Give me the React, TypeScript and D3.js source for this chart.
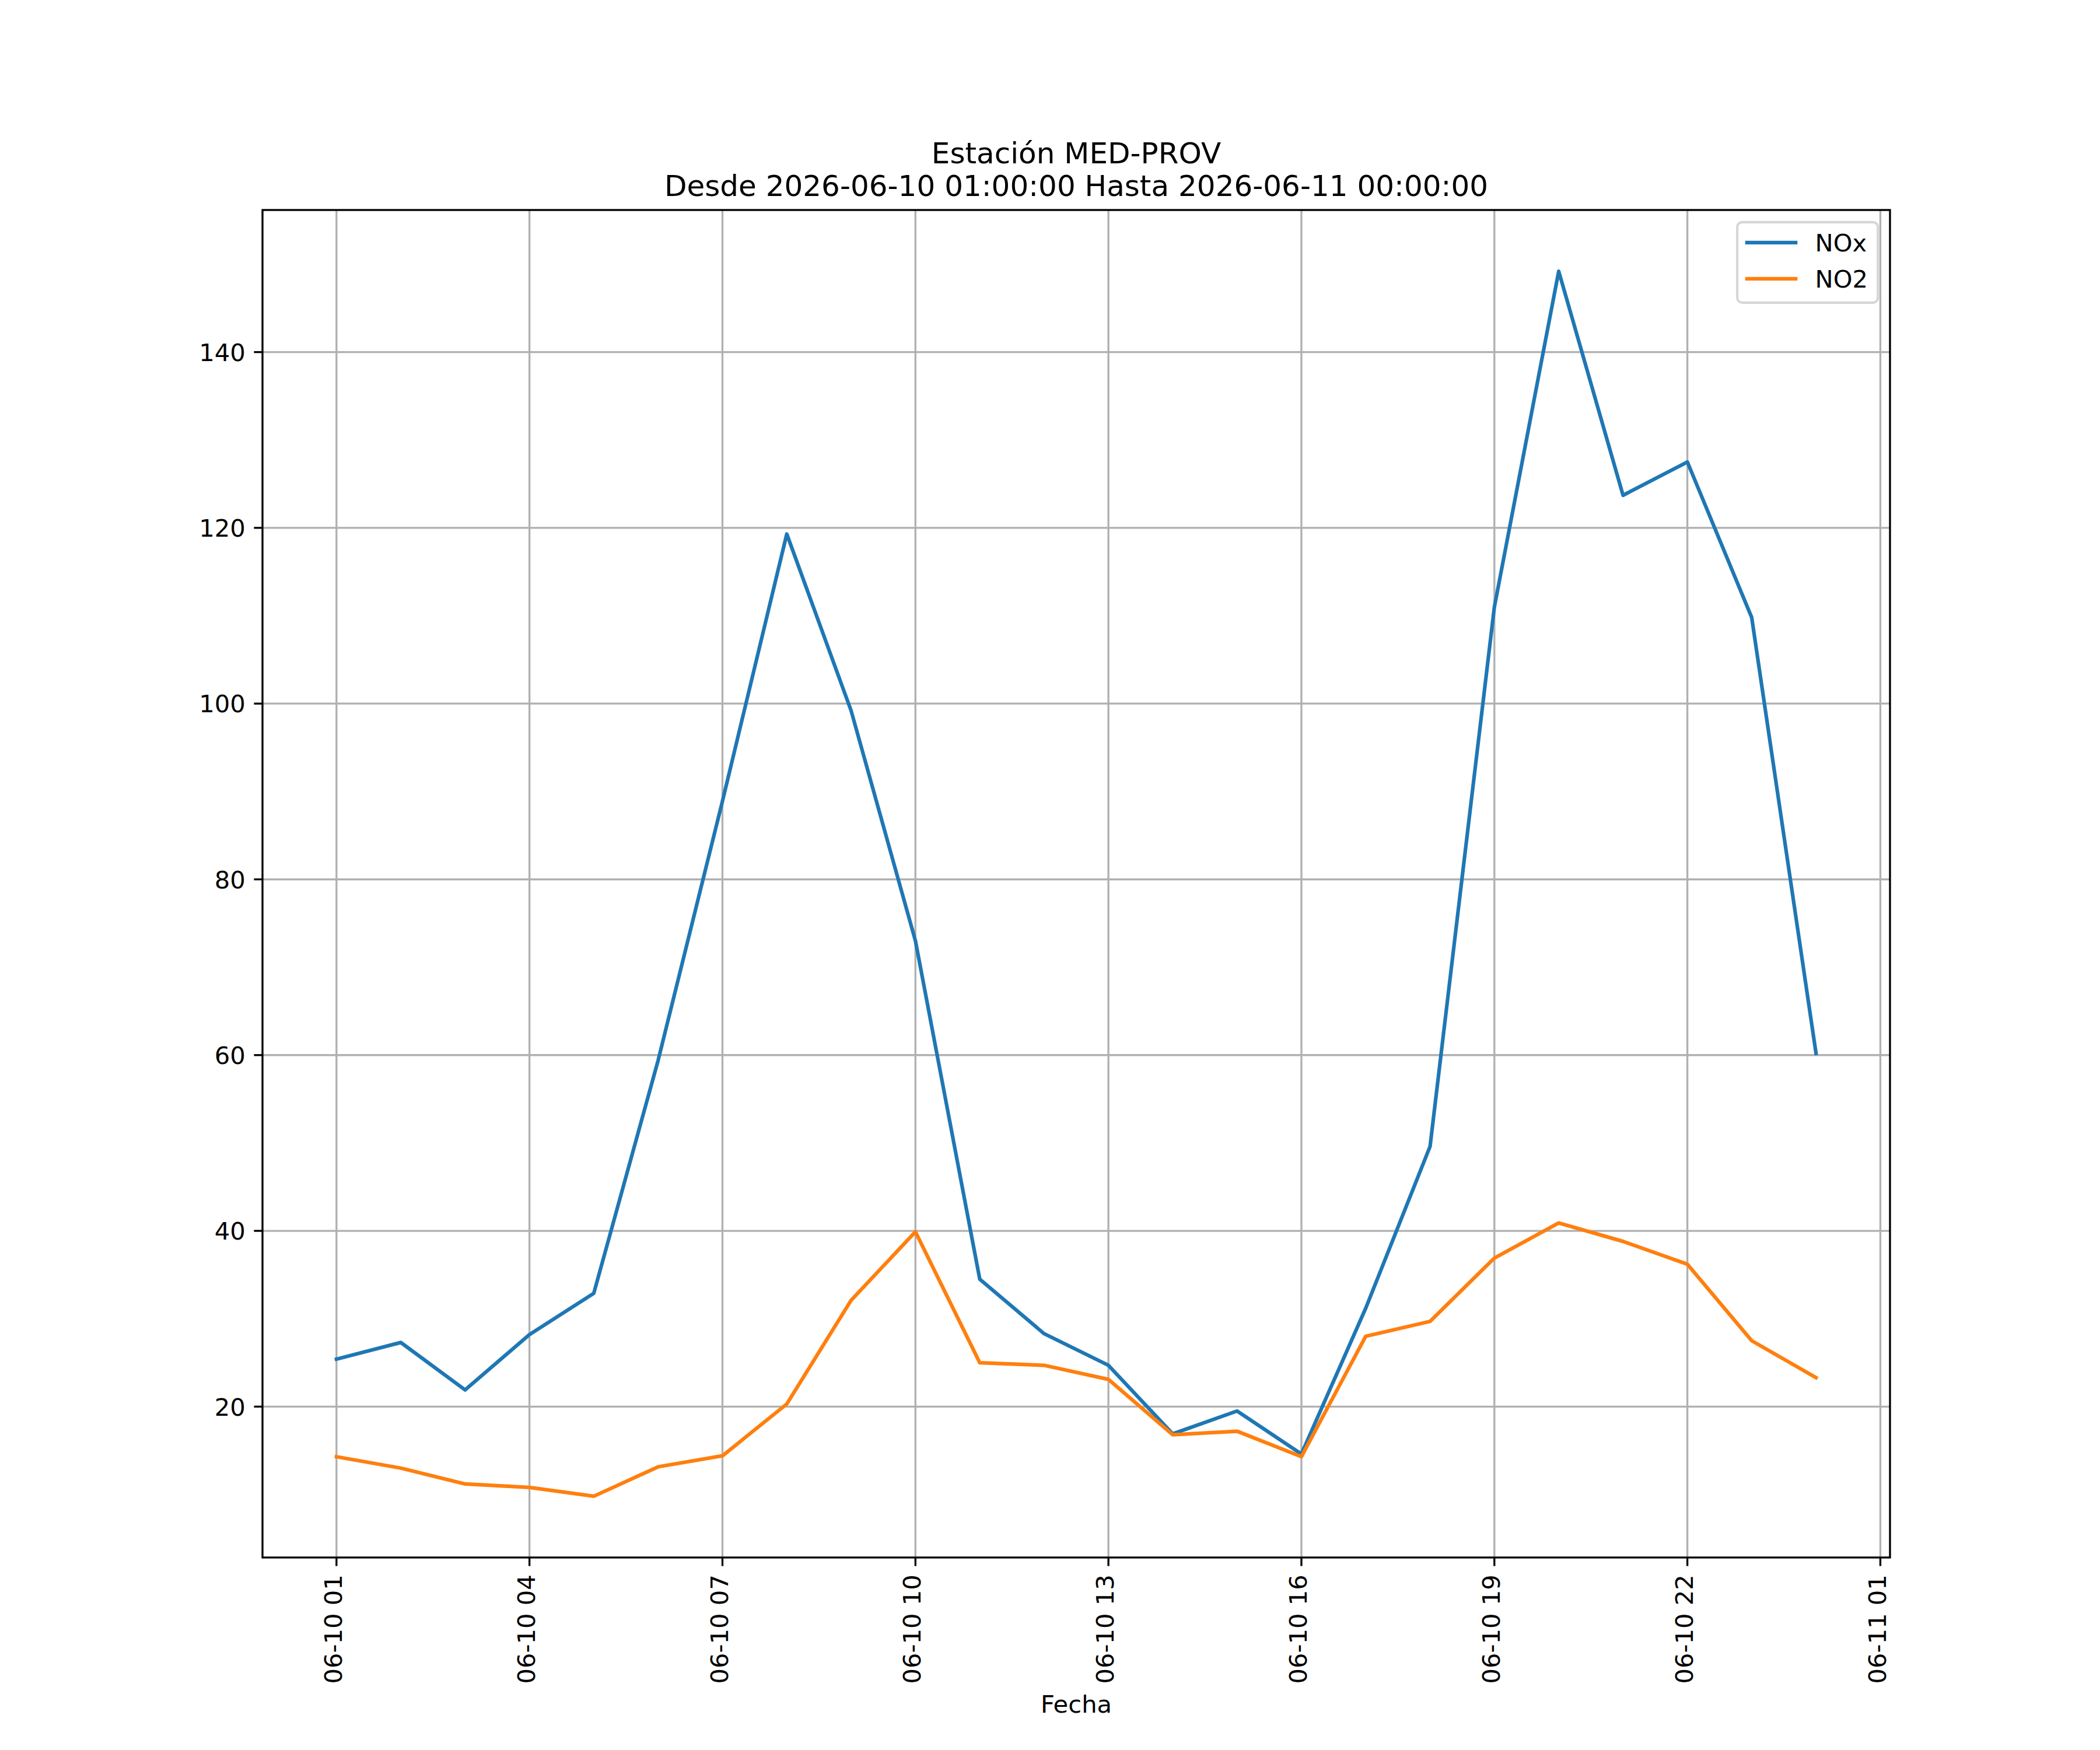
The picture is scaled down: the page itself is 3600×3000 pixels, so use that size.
import { useEffect, useRef } from 'react'
import * as d3 from 'd3'

// hourly readings, 06-10 01:00 → 06-11 00:00
const TIMES = [
  '2026-06-10 01:00', '2026-06-10 02:00', '2026-06-10 03:00', '2026-06-10 04:00',
  '2026-06-10 05:00', '2026-06-10 06:00', '2026-06-10 07:00', '2026-06-10 08:00',
  '2026-06-10 09:00', '2026-06-10 10:00', '2026-06-10 11:00', '2026-06-10 12:00',
  '2026-06-10 13:00', '2026-06-10 14:00', '2026-06-10 15:00', '2026-06-10 16:00',
  '2026-06-10 17:00', '2026-06-10 18:00', '2026-06-10 19:00', '2026-06-10 20:00',
  '2026-06-10 21:00', '2026-06-10 22:00', '2026-06-10 23:00', '2026-06-11 00:00',
]

const NOX = [
  25.4, 27.3, 21.9, 28.2, 32.9, 59.4, 88.9, 119.3, 99.2, 73.0, 34.5, 28.3,
  24.7, 16.9, 19.5, 14.6, 31.2, 49.6, 111.0, 149.2, 123.7, 127.5, 109.8, 60.2,
]

const NO2 = [
  14.3, 13.0, 11.2, 10.8, 9.8, 13.15, 14.4, 20.3, 32.1, 39.9, 25.0, 24.7,
  23.1, 16.8, 17.2, 14.3, 28.0, 29.7, 36.9, 40.9, 38.8, 36.2, 27.5, 23.3,
]

const SERIES = [
  { name: 'NOx', values: NOX, color: '#1f77b4' },
  { name: 'NO2', values: NO2, color: '#ff7f0e' },
]

const X_TICKS = [
  '2026-06-10 01:00', '2026-06-10 04:00', '2026-06-10 07:00', '2026-06-10 10:00',
  '2026-06-10 13:00', '2026-06-10 16:00', '2026-06-10 19:00', '2026-06-10 22:00',
  '2026-06-11 01:00',
]
const Y_TICKS = [20, 40, 60, 80, 100, 120, 140]

const TITLE = ['Estación MED-PROV', 'Desde 2026-06-10 01:00:00 Hasta 2026-06-11 00:00:00']
const X_LABEL = 'Fecha'

const FONT = '"DejaVu Sans", sans-serif'

export default function App() {
  const svgRef = useRef<SVGSVGElement>(null)

  useEffect(() => {
    const svg = svgRef.current
    if (!svg) return

    const width = 3600
    const height = 3000
    const margin = { top: 360, right: 360, bottom: 330, left: 450 }
    const innerW = width - margin.left - margin.right
    const innerH = height - margin.top - margin.bottom
    const fs = 41.67
    const tickLen = 14.6
    const tickPad = 14.6
    const thin = 3.33

    const root = d3.select(svg)
    root.selectAll('*').remove()
    root.attr('width', width).attr('height', height)
    root.append('rect').attr('width', width).attr('height', height).attr('fill', '#fff')

    const parse = d3.timeParse('%Y-%m-%d %H:%M')
    const dates = TIMES.map(t => parse(t) as Date)
    const fmt = d3.timeFormat('%m-%d %H')

    // matplotlib-style 5% margins
    const [t0, t1] = d3.extent(dates) as [Date, Date]
    const tPad = (+t1 - +t0) * 0.05
    const allVals = SERIES.flatMap(s => s.values)
    const vMin = d3.min(allVals) as number
    const vMax = d3.max(allVals) as number
    const vPad = (vMax - vMin) * 0.05

    const x = d3.scaleTime().domain([new Date(+t0 - tPad), new Date(+t1 + tPad)]).range([0, innerW])
    const y = d3.scaleLinear().domain([vMin - vPad, vMax + vPad]).range([innerH, 0])

    const g = root.append('g').attr('transform', `translate(${margin.left},${margin.top})`)

    const xTicks = X_TICKS.map(t => parse(t) as Date)

    // grid
    g.append('g')
      .selectAll('line')
      .data(xTicks)
      .join('line')
      .attr('x1', d => x(d)).attr('x2', d => x(d))
      .attr('y1', 0).attr('y2', innerH)
      .attr('stroke', '#b0b0b0').attr('stroke-width', thin)
    g.append('g')
      .selectAll('line')
      .data(Y_TICKS)
      .join('line')
      .attr('x1', 0).attr('x2', innerW)
      .attr('y1', d => y(d)).attr('y2', d => y(d))
      .attr('stroke', '#b0b0b0').attr('stroke-width', thin)

    // series
    const line = d3.line<number>()
      .x((_, i) => x(dates[i]))
      .y(d => y(d))

    SERIES.forEach(s => {
      g.append('path')
        .attr('d', line(s.values) ?? '')
        .attr('fill', 'none')
        .attr('stroke', s.color)
        .attr('stroke-width', 6.25)
        .attr('stroke-linecap', 'square')
        .attr('stroke-linejoin', 'round')
    })

    // spines
    g.append('rect')
      .attr('width', innerW).attr('height', innerH)
      .attr('fill', 'none').attr('stroke', '#000').attr('stroke-width', thin)

    // x axis ticks + rotated labels
    const xAx = g.append('g').attr('transform', `translate(0,${innerH})`)
    xAx.selectAll('line')
      .data(xTicks)
      .join('line')
      .attr('x1', d => x(d)).attr('x2', d => x(d))
      .attr('y1', 0).attr('y2', tickLen)
      .attr('stroke', '#000').attr('stroke-width', thin)
    xAx.selectAll('text')
      .data(xTicks)
      .join('text')
      .attr('transform', d => `translate(${x(d)},${tickLen + tickPad}) rotate(-90)`)
      .attr('text-anchor', 'end')
      .attr('dy', '0.22em')
      .attr('font-family', FONT)
      .attr('font-size', fs)
      .attr('fill', '#000')
      .text(d => fmt(d))

    // y axis
    const yAx = g.append('g')
    yAx.selectAll('line')
      .data(Y_TICKS)
      .join('line')
      .attr('x1', -tickLen).attr('x2', 0)
      .attr('y1', d => y(d)).attr('y2', d => y(d))
      .attr('stroke', '#000').attr('stroke-width', thin)
    yAx.selectAll('text')
      .data(Y_TICKS)
      .join('text')
      .attr('x', -tickLen - tickPad)
      .attr('y', d => y(d))
      .attr('dy', '0.365em')
      .attr('text-anchor', 'end')
      .attr('font-family', FONT)
      .attr('font-size', fs)
      .attr('fill', '#000')
      .text(d => String(d))

    // x label
    root.append('text')
      .attr('x', margin.left + innerW / 2)
      .attr('y', 2936)
      .attr('text-anchor', 'middle')
      .attr('font-family', FONT)
      .attr('font-size', fs)
      .attr('fill', '#000')
      .text(X_LABEL)

    // title (two lines)
    root.append('g')
      .selectAll('text')
      .data(TITLE)
      .join('text')
      .attr('x', margin.left + innerW / 2)
      .attr('y', (_, i) => 280 + i * 56)
      .attr('text-anchor', 'middle')
      .attr('font-family', FONT)
      .attr('font-size', 50)
      .attr('fill', '#000')
      .text(d => d)

    // legend, upper right
    const lgW = 241
    const lgH = 138
    const lg = g.append('g').attr('transform', `translate(${innerW - 20.8 - lgW},${20.8})`)
    lg.append('rect')
      .attr('width', lgW).attr('height', lgH)
      .attr('rx', 8.3).attr('ry', 8.3)
      .attr('fill', 'rgba(255,255,255,0.8)')
      .attr('stroke', '#d6d6d6').attr('stroke-width', 4.17)
    SERIES.forEach((s, i) => {
      const cy = 35 + i * 62
      lg.append('line')
        .attr('x1', 16.7).attr('x2', 16.7 + 83.3)
        .attr('y1', cy).attr('y2', cy)
        .attr('stroke', s.color).attr('stroke-width', 6.25)
        .attr('stroke-linecap', 'square')
      lg.append('text')
        .attr('x', 16.7 + 83.3 + 33.3)
        .attr('y', cy)
        .attr('dy', '0.365em')
        .attr('font-family', FONT)
        .attr('font-size', fs)
        .attr('fill', '#000')
        .text(s.name)
    })
  }, [])

  return (
    <div style={{ position: 'absolute', left: 0, top: 0 }}>
      <svg ref={svgRef} style={{ display: 'block' }} />
    </div>
  )
}
